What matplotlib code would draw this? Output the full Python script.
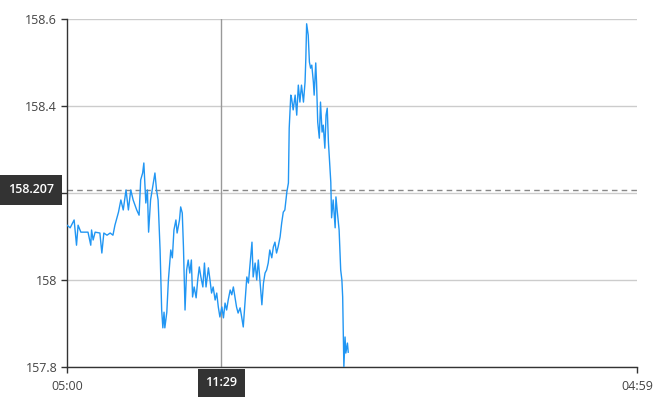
import matplotlib
matplotlib.use("Agg")
import matplotlib.pyplot as plt
from matplotlib.ticker import FixedLocator, FuncFormatter

plt.rcParams['font.family'] = ['Open Sans', 'DejaVu Sans']

# minutes after 05:00
minutes = [
    0, 8, 18, 24, 28, 35, 43, 53, 60, 62, 66, 71, 83, 88, 93, 101, 109, 116, 121, 130,
    136, 142, 149, 155, 161, 167, 176, 182, 186, 191, 194, 199, 203, 206, 211, 218, 222, 226, 230, 235,
    239, 242, 245, 247, 252, 256, 262, 266, 270, 275, 278, 284, 287, 291, 294, 298, 302, 306, 310, 314,
    317, 321, 326, 330, 334, 338, 343, 347, 351, 357, 361, 365, 369, 374, 378, 382, 386, 391, 395, 399,
    403, 407, 412, 416, 420, 424, 428, 432, 437, 441, 445, 449, 454, 458, 462, 467, 470, 475, 479, 483,
    487, 492, 496, 500, 504, 508, 512, 517, 521, 525, 529, 533, 538, 542, 546, 550, 555, 559, 561, 565,
    567, 571, 576, 580, 584, 588, 592, 597, 601, 603, 605, 609, 612, 615, 618, 622, 624, 628, 630, 633,
    637, 640, 644, 647, 651, 654, 657, 660, 664, 666, 668, 672, 677, 679, 682, 687, 691, 694, 696, 699,
    702, 704, 708, 710,
]
prices = [
    158.126, 158.120, 158.138, 158.080, 158.126, 158.110, 158.110, 158.110, 158.080, 158.115,
    158.092, 158.110, 158.108, 158.062, 158.108, 158.103, 158.108, 158.103, 158.126, 158.156,
    158.184, 158.161, 158.207, 158.161, 158.207, 158.184, 158.161, 158.149, 158.230, 158.246,
    158.269, 158.177, 158.207, 158.110, 158.184, 158.223, 158.246, 158.207, 158.184, 158.069,
    157.931, 157.890, 157.926, 157.890, 157.926, 158.000, 158.069, 158.051, 158.115, 158.138,
    158.108, 158.138, 158.168, 158.154, 158.076, 157.931, 158.023, 158.046, 158.016, 158.046,
    157.961, 157.984, 157.959, 158.000, 158.030, 158.007, 157.984, 158.039, 157.984, 158.028,
    158.000, 157.970, 157.984, 157.954, 157.970, 157.938, 157.915, 157.938, 157.913, 157.947,
    157.931, 157.954, 157.977, 157.966, 157.984, 157.961, 157.938, 157.924, 157.936, 157.915,
    157.892, 157.943, 158.007, 157.993, 158.034, 158.087, 158.007, 158.039, 158.000, 158.046,
    158.000, 157.943, 157.993, 158.016, 158.023, 158.039, 158.069, 158.051, 158.076, 158.087,
    158.062, 158.076, 158.099, 158.131, 158.156, 158.161, 158.202, 158.223, 158.349, 158.425,
    158.418, 158.391, 158.425, 158.379, 158.448, 158.409, 158.448, 158.409, 158.455, 158.510,
    158.589, 158.563, 158.501, 158.487, 158.494, 158.455, 158.425, 158.499, 158.455, 158.363,
    158.326, 158.409, 158.340, 158.356, 158.303, 158.379, 158.395, 158.317, 158.257, 158.225,
    158.143, 158.184, 158.120, 158.191, 158.161, 158.115, 158.023, 158.000, 157.961, 157.800,
    157.869, 157.832, 157.855, 157.834,
]

y_ticks = [157.8, 158.0, 158.2, 158.4, 158.6]
x_ticks = [0, 1439]
x_labels = ["05:00", "04:59"]

cursor_min = 389       # 11:29
cursor_label = "11:29"
cursor_price = 158.207


def y_fmt(v, pos):
    # the 158.2 label sits under the crosshair price box
    if abs(v - cursor_price) < 0.05:
        return ""
    return f"{v:g}"


fig = plt.figure(figsize=(6.7, 4.0), dpi=100)
ax = fig.add_axes([0.1, 0.0825, 0.8507, 0.87])

ax.plot(minutes, prices, color="#2196F3", lw=1.0, zorder=3)

ax.set_xlim(0, 1439)
ax.set_ylim(157.8, 158.6)
ax.yaxis.set_major_locator(FixedLocator(y_ticks))
ax.yaxis.set_major_formatter(FuncFormatter(y_fmt))
ax.set_xticks(x_ticks)
ax.set_xticklabels(x_labels)

ax.grid(axis="y", color="#cccccc", lw=1.0, zorder=0)
for s in ["top", "right"]:
    ax.spines[s].set_visible(False)
for s in ["left", "bottom"]:
    ax.spines[s].set_color("#333333")
    ax.spines[s].set_linewidth(1.0)
ax.tick_params(colors="#333333", labelsize=9, length=4, width=1, pad=3)
ax.tick_params(axis="y", labelcolor="#444444")
ax.tick_params(axis="x", labelcolor="#444444", pad=5)

# crosshair
ax.axvline(cursor_min, color="#999999", lw=1.0, zorder=2)
ax.axhline(cursor_price, color="#888888", lw=1.0, ls=(0, (4, 3)), zorder=2)

ax.annotate(f"{cursor_price:.3f}", xy=(0, cursor_price), xycoords=("axes fraction", "data"),
            xytext=(-36, 0), textcoords="offset pixels", ha="center", va="center",
            fontsize=9, color="white", fontweight="semibold",
            bbox=dict(boxstyle="square,pad=0.65", fc="#333333", ec="none"),
            annotation_clip=False, zorder=5)
ax.annotate(cursor_label, xy=(cursor_min, 0), xycoords=("data", "axes fraction"),
            xytext=(0, -16), textcoords="offset pixels", ha="center", va="center",
            fontsize=9, color="white", fontweight="semibold",
            bbox=dict(boxstyle="square,pad=0.6", fc="#333333", ec="none"),
            annotation_clip=False, zorder=5)

fig.savefig("out.png", dpi=100)
